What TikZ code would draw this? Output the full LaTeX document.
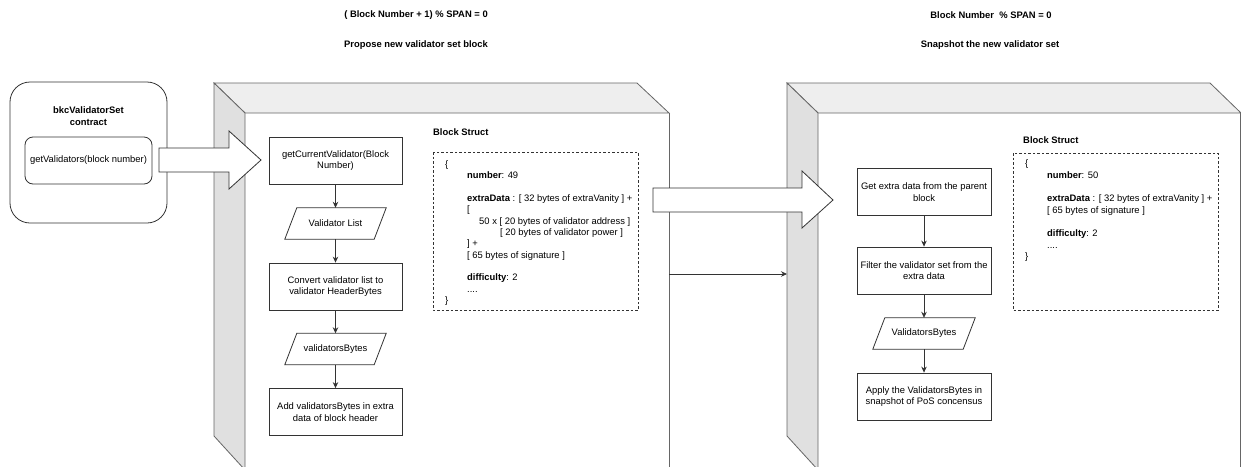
\documentclass[tikz,border=0pt]{standalone}
\usepackage{fontspec}
\setmainfont{Liberation Sans}
\usetikzlibrary{arrows.meta}

\definecolor{edge}{HTML}{666666}
\definecolor{ink}{HTML}{333333}
\definecolor{topface}{HTML}{EEEEEE}
\definecolor{sideface}{HTML}{E0E0E0}

\begin{document}
\begin{tikzpicture}[x=1pt,y=-1pt,
  every node/.style={font=\fontsize{9.4}{11.4}\selectfont, text=black, inner sep=0pt},
  heading/.style={font=\fontsize{9.4}{11.4}\selectfont\bfseries},
  stepbox/.style={draw=ink, line width=0.8pt, minimum width=133pt, minimum height=47pt, align=center},
  paranode/.style={minimum width=89pt, minimum height=31pt},
  paraline/.style={draw=ink, line width=0.8pt},
  flow/.style={draw=ink, line width=0.8pt, -{Stealth[length=6pt,width=5.5pt]}},
  frameline/.style={draw=edge, line width=0.8pt},
  bigarrow/.style={draw=ink, line width=0.8pt, fill=white},
  structbox/.style={draw=ink, line width=0.7pt, dash pattern=on 2.5pt off 2pt},
  structtext/.style={align=left, anchor=north west, font=\fontsize{9.4}{11.33}\selectfont},
]
\useasboundingbox (0,0) rectangle (1241,466);

% ---------- headings ----------
\node[heading] (h1) at (416,15) {( Block Number + 1) \% SPAN = 0};
\node[heading] (h2) at (416,45) {Propose new validator set block};
\node[heading] (h3) at (991,15) {Block Number \ \% SPAN = 0};
\node[heading] (h4) at (990,45) {Snapshot the new validator set};

% ---------- contract box ----------
\draw[draw=ink, line width=0.8pt, rounded corners=20pt] (10,82) rectangle (167,223);
\node[heading, align=center] (ctitle) at (88.5,116) {bkcValidatorSet\\contract};
\node[draw=ink, line width=0.8pt, rounded corners=8pt, minimum width=127pt, minimum height=47pt]
  (getval) at (88.5,160.5) {getValidators(block number)};

% ---------- frame 1 (3D box) ----------
\fill[white] (245,113) rectangle (669,470);
\filldraw[frameline, fill=topface] (214,83) -- (637,83) -- (669,113) -- (245,113) -- cycle;
\filldraw[frameline, fill=sideface] (214,83) -- (245,113) -- (245,470) -- (214,436) -- cycle;
\draw[frameline] (669,113) -- (669,470);

% ---------- frame 2 (3D box) ----------
\fill[white] (818,113) rectangle (1241,470);
\filldraw[frameline, fill=topface] (787,83) -- (1210,83) -- (1241,113) -- (818,113) -- cycle;
\filldraw[frameline, fill=sideface] (787,83) -- (818,113) -- (818,470) -- (787,436) -- cycle;
\draw[frameline] (1240.4,113) -- (1240.4,470);

% ---------- big block arrows ----------
\draw[bigarrow] (159,148) -- (229,148) -- (229,131) -- (261,160) -- (229,189) -- (229,172) -- (159,172) -- cycle;
\draw[bigarrow] (653,188) -- (802,188) -- (802,171) -- (833,200) -- (802,228) -- (802,212) -- (653,212) -- cycle;

% ---------- thin connector between frames ----------
\coordinate (f1out) at (669,274);
\coordinate (f2in) at (787,274);
\draw[flow] (f1out) -- (f2in);

% ---------- frame 1 flow ----------
\node[stepbox] (gcv) at (335.5,160.5) {getCurrentValidator(Block\\Number)};
\node[paranode] (vl) at (335.5,223.5) {Validator List};
\node[stepbox] (conv) at (335.5,286.5) {Convert validator list to\\validator HeaderBytes};
\node[paranode] (vb1) at (335.5,349) {validatorsBytes};
\node[stepbox] (addx) at (335.5,412) {Add validatorsBytes in extra\\data of block header};

\foreach \p in {vl,vb1}{
  \draw[paraline] ([xshift=6pt]\p.north west) -- ([xshift=6pt]\p.north east)
    -- ([xshift=-6pt]\p.south east) -- ([xshift=-6pt]\p.south west) -- cycle;
}
\draw[flow] (gcv) -- (vl);
\draw[flow] (vl) -- (conv);
\draw[flow] (conv) -- (vb1);
\draw[flow] (vb1) -- (addx);

% ---------- frame 1 block struct ----------
\node[heading, anchor=west] (bs1) at (433,132) {Block Struct};
\draw[structbox] (433,152) rectangle (638,310);
\node[structtext] (st1) at (445,160.5) {%
\{\\
\hspace*{22pt}\textbf{number}: 49\\
\mbox{}\\
\hspace*{22pt}\textbf{extraData} : [ 32 bytes of extraVanity ] +\\
\hspace*{22pt}[\\
\hspace*{34pt}50 x [ 20 bytes of validator address ]\\
\hspace*{55pt}[ 20 bytes of validator power ]\\
\hspace*{22pt}] +\\
\hspace*{22pt}[ 65 bytes of signature ]\\
\mbox{}\\
\hspace*{22pt}\textbf{difficulty}: 2\\
\hspace*{22pt}....\\
\}};

% ---------- frame 2 flow ----------
\node[stepbox, minimum width=134pt] (ged) at (924,192) {Get extra data from the parent\\block};
\node[stepbox, minimum width=134pt] (filt) at (924,270.5) {Filter the validator set from the\\extra data};
\node[paranode, minimum width=90pt] (vb2) at (924,333.5) {ValidatorsBytes};
\node[stepbox, minimum width=134pt] (apply) at (924,396.5) {Apply the ValidatorsBytes in\\snapshot of PoS concensus};

\draw[paraline] ([xshift=6pt]vb2.north west) -- ([xshift=6pt]vb2.north east)
  -- ([xshift=-6pt]vb2.south east) -- ([xshift=-6pt]vb2.south west) -- cycle;
\draw[flow] (ged) -- (filt);
\draw[flow] (filt) -- (vb2);
\draw[flow] (vb2) -- (apply);

% ---------- frame 2 block struct ----------
\node[heading, anchor=west] (bs2) at (1023,140) {Block Struct};
\draw[structbox] (1013,153) rectangle (1218,310);
\node[structtext, font=\fontsize{9.4}{11.65}\selectfont] (st2) at (1025,159.5) {%
\{\\
\hspace*{22pt}\textbf{number}: 50\\
\mbox{}\\
\hspace*{22pt}\textbf{extraData} : [ 32 bytes of extraVanity ] +\\
\hspace*{22pt}[ 65 bytes of signature ]\\
\mbox{}\\
\hspace*{22pt}\textbf{difficulty}: 2\\
\hspace*{22pt}....\\
\}};
\end{tikzpicture}
\end{document}
